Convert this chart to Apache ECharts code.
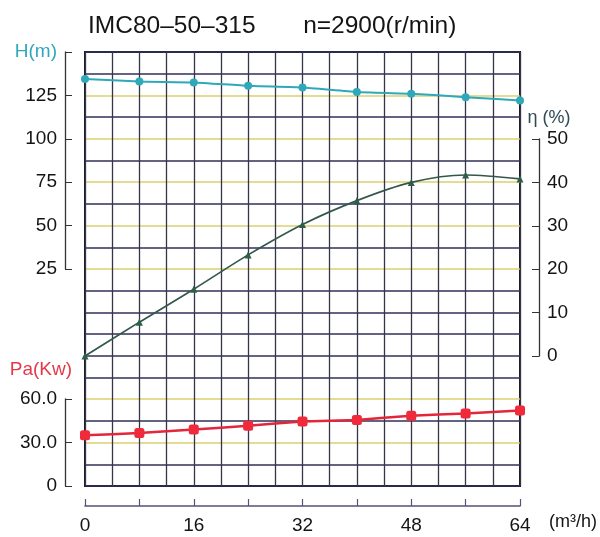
<!DOCTYPE html>
<html>
<head>
<meta charset="utf-8">
<script src="https://cdn.jsdelivr.net/npm/echarts@6/dist/echarts.min.js"></script>
<style>
html,body{margin:0;padding:0;background:#fff;}
#chart{width:600px;height:537px;}
</style>
</head>
<body>
<div id="chart"></div>
<script>
// ---- data ----
const flowValues = [0, 8, 16, 24, 32, 40, 48, 56, 64];                    // Q (m3/h)
const headValues = [134.5, 133, 132.5, 130.5, 129.5, 127, 126, 124, 122]; // H (m)
const effValues = [0, 7.8, 15.4, 23.3, 30.3, 35.8, 40, 41.7, 40.8];       // eta (%)
const powerValues = [35, 36.5, 39, 41.5, 44.5, 45.5, 48.5, 50, 52];       // Pa (kW)
const flowTickLabels = [0, 16, 32, 48, 64];
const titleText = 'IMC80\u201350\u2013315       n=2900(r/min)';

const pairs = (ys) => flowValues.map((x, i) => [x, ys[i]]);

const DARK = '#303058';
const LIGHT = '#dcd070';
const lightIdx = [2, 4, 10, 12, 14, 16, 18];
const hColors = [];
for (let v = 0; v <= 20; v++) hColors.push(lightIdx.includes(v) ? LIGHT : DARK);

const FONT = 'Liberation Sans';
const TXT = '#141414';
const AX = '#333';
const L = 85, R = 80;

const chart = echarts.init(document.getElementById('chart'), null, {renderer: 'canvas'});
chart.setOption({
  animation: false,
  backgroundColor: '#fff',
  title: {
    text: titleText, left: 83, top: 9,
    textStyle: {fontSize: 24.5, fontWeight: 'normal', color: TXT, fontFamily: FONT}
  },
  grid: [
    {left: L, right: R, top: 52, height: 434, show: true, borderColor: '#1a1a26', borderWidth: 2},
    {left: L, right: R, top: 52, height: 217},
    {left: L, right: R, top: 139, height: 217},
    {left: L, right: R, top: 399, height: 87},
    {left: L, right: R, top: 501, height: 5}
  ],
  xAxis: [
    {gridIndex: 0, type: 'value', min: 0, max: 64, interval: 4,
     axisLine: {show: false}, axisTick: {show: false}, axisLabel: {show: false},
     splitLine: {show: true, lineStyle: {color: '#35354a', width: 1.3}}},
    {gridIndex: 1, type: 'value', min: 0, max: 64, show: false},
    {gridIndex: 2, type: 'value', min: 0, max: 64, show: false},
    {gridIndex: 3, type: 'value', min: 0, max: 64, show: false},
    {gridIndex: 4, type: 'value', min: 0, max: 64, interval: 8,
     axisLine: {show: true, onZero: false, lineStyle: {color: '#5b4f7a', width: 1.6}},
     axisTick: {show: true, inside: true, length: 7, lineStyle: {color: '#5b4f7a', width: 1.2}},
     splitLine: {show: false},
     axisLabel: {color: TXT, fontSize: 19, fontFamily: FONT, margin: 10,
       formatter: (v) => flowTickLabels.includes(v) ? String(v) : ''},
     name: '(m\u00b3/h)', nameLocation: 'end', nameGap: 29,
     nameTextStyle: {color: TXT, fontSize: 18, fontFamily: FONT, verticalAlign: 'top', lineHeight: 20, padding: [6, 0, 0, 0]}}
  ],
  yAxis: [
    {gridIndex: 0, type: 'value', min: 0, max: 20, interval: 1,
     axisLine: {show: false}, axisTick: {show: false}, axisLabel: {show: false},
     splitLine: {show: true, lineStyle: {color: hColors, width: 1.6}}},
    {gridIndex: 1, type: 'value', min: 25, max: 150, interval: 25, position: 'left', offset: 20,
     axisLine: {show: true, onZero: false, lineStyle: {color: AX, width: 1.3}},
     axisTick: {show: true, inside: true, length: 7, lineStyle: {color: AX}},
     splitLine: {show: false},
     axisLabel: {color: TXT, fontSize: 19, fontFamily: FONT, margin: 8,
       formatter: (v) => v === 150 ? '{h|H(m)}' : String(v),
       rich: {h: {color: '#2fa8ba', fontSize: 19, fontFamily: FONT}}}},
    {gridIndex: 2, type: 'value', min: 0, max: 50, interval: 10, position: 'right', offset: 19,
     axisLine: {show: true, onZero: false, lineStyle: {color: AX, width: 1.3}},
     axisTick: {show: true, inside: true, length: 7, lineStyle: {color: AX}},
     splitLine: {show: false},
     axisLabel: {color: TXT, fontSize: 19, fontFamily: FONT, margin: 8},
     name: '\u03b7 (%)', nameLocation: 'end', nameGap: 12,
     nameTextStyle: {color: '#2d4a55', fontSize: 18, fontFamily: FONT, align: 'center', padding: [0, 0, 0, 20]}},
    {gridIndex: 3, type: 'value', min: 0, max: 60, interval: 30, position: 'left', offset: 20,
     axisLine: {show: true, onZero: false, lineStyle: {color: AX, width: 1.3}},
     axisTick: {show: true, inside: true, length: 7, lineStyle: {color: AX}},
     splitLine: {show: false},
     axisLabel: {color: TXT, fontSize: 19, fontFamily: FONT, margin: 8, formatter: (v) => v === 0 ? '0' : v.toFixed(1)},
     name: 'Pa(Kw)', nameLocation: 'end', nameGap: 20,
     nameTextStyle: {color: '#e33a4a', fontSize: 19, fontFamily: FONT, align: 'right', padding: [0, -7, 0, 0]}},
    {gridIndex: 4, type: 'value', min: 0, max: 1, show: false}
  ],
  series: [
    {type: 'line', name: 'H', xAxisIndex: 1, yAxisIndex: 1, data: pairs(headValues),
     symbol: 'circle', symbolSize: 8, smooth: 0.15,
     lineStyle: {color: '#2fa8ba', width: 2}, itemStyle: {color: '#2fa8ba'}, z: 5},
    {type: 'line', name: 'eta', xAxisIndex: 2, yAxisIndex: 2, data: pairs(effValues),
     symbol: 'triangle', symbolSize: 7, smooth: 0.3,
     lineStyle: {color: '#33574a', width: 1.7}, itemStyle: {color: '#2e5e48'}, z: 5},
    {type: 'line', name: 'Pa', xAxisIndex: 3, yAxisIndex: 3, data: pairs(powerValues),
     symbol: 'roundRect', symbolSize: 10, smooth: 0.1,
     lineStyle: {color: '#e3263a', width: 2.5}, itemStyle: {color: '#f02a3a'}, z: 5}
  ]
});
</script>
</body>
</html>
